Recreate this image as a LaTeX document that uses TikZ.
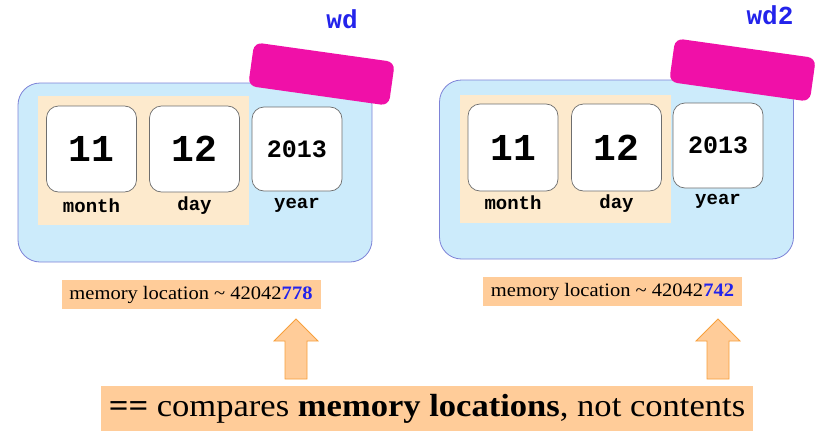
\documentclass[tikz,border=0pt]{standalone}
\usepackage{fontspec}
\setmainfont{Liberation Serif}[FakeStretch=1.08]
\newfontfamily\monob{Liberation Mono}[BoldFont={Liberation Mono Bold}]
\definecolor{boxblue}{RGB}{204,235,251}
\definecolor{boxline}{RGB}{125,130,215}
\definecolor{beige}{RGB}{253,234,205}
\definecolor{magent}{RGB}{240,16,168}
\definecolor{peach}{RGB}{255,204,153}
\definecolor{arrline}{RGB}{247,160,60}
\definecolor{txtblue}{RGB}{35,35,235}
\definecolor{cellline}{RGB}{110,110,110}
\begin{document}
\begin{tikzpicture}[x=1pt,y=-1pt,
  objbox/.style={draw=boxline,fill=boxblue,rounded corners=22pt,minimum width=354pt,minimum height=179pt,inner sep=0pt,line width=0.8pt},
  beigebox/.style={fill=beige,minimum width=211pt,minimum height=129pt,inner sep=0pt},
  cell/.style={draw=cellline,fill=white,rounded corners=12pt,minimum width=90pt,minimum height=86pt,inner sep=0pt,line width=0.7pt},
  bignum/.style={font=\monob\bfseries\fontsize{38}{38}\selectfont},
  yearnum/.style={font=\monob\bfseries\fontsize{25}{25}\selectfont},
  fieldlbl/.style={font=\monob\bfseries\fontsize{19}{19}\selectfont},
  tag/.style={fill=magent,rounded corners=8pt,minimum width=142pt,minimum height=44pt,inner sep=0pt,rotate=-8},
  varname/.style={font=\monob\bfseries\fontsize{26}{26}\selectfont,text=txtblue},
  memlbl/.style={fill=peach,minimum width=259pt,minimum height=29pt,inner sep=0pt,font=\fontsize{19}{19}\selectfont},
  blockarrow/.style={fill=peach,draw=arrline,line width=0.8pt},
]
\useasboundingbox (0,0) rectangle (819,431);
% left object
\node[objbox] (objL) at (195,172.5) {};
\node[beigebox] (bgL) at (143.5,160.5) {};
\node[cell] (mL) at (91.5,149) {};
\node[bignum] at (mL) {11};
\node[cell] (dL) at (194.5,149) {};
\node[bignum] at (dL) {12};
\node[cell,minimum height=84pt] (yL) at (297,149) {};
\node[yearnum] at (yL) {2013};
\node[fieldlbl] (mlL) at (91.5,206) {month};
\node[fieldlbl] (dlL) at (194.5,206) {day};
\node[fieldlbl] (ylL) at (297,205) {year};
\node[tag] (tagL) at (321.5,74) {};
\node[varname] (wd) at (342,19) {wd};
% right object
\node[objbox] (objR) at (616.5,169.5) {};
\node[beigebox,minimum height=128pt] (bgR) at (565.5,159) {};
\node[cell,minimum height=87pt] (mR) at (513,147.5) {};
\node[bignum] at (mR) {11};
\node[cell,minimum height=87pt] (dR) at (616.5,147.5) {};
\node[bignum] at (dR) {12};
\node[cell,minimum height=85pt] (yR) at (718,145.5) {};
\node[yearnum] at (yR) {2013};
\node[fieldlbl] (mlR) at (513,203) {month};
\node[fieldlbl] (dlR) at (616.5,204) {day};
\node[fieldlbl] (ylR) at (718,201) {year};
\node[tag] (tagR) at (742.5,70) {};
\node[varname] (wd2) at (770,15) {wd2};
% memory labels
\node[memlbl] (memL) at (191,294.5) {memory location \textasciitilde{} 42042\textcolor{txtblue}{\textbf{778}}};
\node[memlbl] (memR) at (612.5,291.5) {memory location \textasciitilde{} 42042\textcolor{txtblue}{\textbf{742}}};
% bottom statement
\node[fill=peach,minimum width=652pt,minimum height=45pt,inner sep=0pt,font=\fontsize{32}{32}\selectfont] (stmt) at (427,408.5) {\textbf{==} compares \textbf{memory locations}, not contents};
% block arrows
\draw[blockarrow] (296,319) -- (318,341) -- (307,341) -- (307,379) -- (285,379) -- (285,341) -- (274,341) -- cycle;
\draw[blockarrow] (718,319) -- (740,341) -- (729,341) -- (729,379) -- (707,379) -- (707,341) -- (696,341) -- cycle;
\end{tikzpicture}
\end{document}
